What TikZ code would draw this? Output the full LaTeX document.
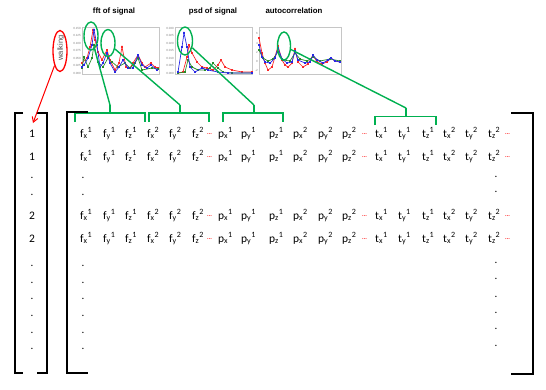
\documentclass[tikz,border=0pt]{standalone}
\usepackage{fontspec}
\setmainfont{Carlito}
\newfontfamily\arialf{Liberation Sans}
\usetikzlibrary{shapes.geometric,arrows.meta,plotmarks}
\definecolor{ogreen}{RGB}{0,176,80}
\definecolor{cred}{RGB}{250,40,40}
\definecolor{cblue}{RGB}{40,40,230}
\definecolor{cgreen}{RGB}{40,140,40}
\newcommand{\ent}[3]{#1\textsubscript{#2}\textsuperscript{#3}}
\tikzset{
  ent/.style={anchor=base west, inner sep=0pt, font=\fontsize{11.5}{13}\selectfont},
  lab/.style={anchor=base, inner sep=0pt, font=\fontsize{11.5}{13}\selectfont},
  bdot/.style={inner sep=0pt, font=\fontsize{11}{13}\selectfont},
  rdots/.style={anchor=west, inner sep=0pt, text=red, font=\fontsize{6}{6}\selectfont},
  blackbr/.style={line width=2pt, black},
  greenbr/.style={line width=1.4pt, ogreen},
  greenell/.style={ellipse, draw=ogreen, line width=1.4pt, inner sep=0pt},
  title/.style={inner sep=0pt, font=\arialf\bfseries\fontsize{7.8}{8}\selectfont},
  tick/.style={anchor=east, inner sep=0pt, text=gray, font=\arialf\fontsize{3}{3}\selectfont},
  parea/.style={draw=gray!45, line width=0.4pt},
  curve/.style={line width=0.7pt, mark=square*, mark size=0.6pt},
}
\begin{document}
\begin{tikzpicture}[x=1pt, y=-1pt]
\useasboundingbox (0,0) rectangle (546,389);

% ---------- titles ----------
\node[title] (t1) at (114,11) {fft of signal};
\node[title] (t2) at (213,11) {psd of signal};
\node[title] (t3) at (294,11) {autocorrelation};

% ---------- plot 1 ----------
\draw[parea] (82,27) rectangle (159,74);
\foreach \v/\yy in {0.150/28,0.125/35.5,0.100/43,0.075/50.5,0.050/58,0.025/65.5,0.000/73}
  \node[tick] (pa\yy) at (81,\yy) {\v};
\draw[curve, cred] plot coordinates {(82,63) (87,58) (90,47) (93,30) (95,40) (98,52) (102,60) (107,50) (110,60) (115,70) (119,63) (122,47) (126,67) (130,68) (133,63) (138,55) (142,63) (145,67) (151,63) (155,67) (158,68)};
\draw[curve, cgreen] plot coordinates {(82,68) (84,57) (88,67) (92,58) (94,45) (98,62) (103,67) (108,58) (112,62) (118,67) (125,63) (130,68) (135,63) (138,58) (142,70) (152,68) (158,69)};
\draw[curve, cblue] plot coordinates {(82,67) (84,65) (88,58) (92,45) (94,30) (97,45) (100,67) (103,63) (107,53) (110,63) (115,72) (119,67) (123,60) (128,68) (133,68) (138,55) (142,65) (147,68) (151,65) (157,70)};

% ---------- plot 2 ----------
\draw[parea] (175,27) rectangle (252,74);
\foreach \v/\yy in {0.030/28,0.025/35.5,0.020/43,0.015/50.5,0.010/58,0.005/65.5,0.000/73}
  \node[tick] (pb\yy) at (174,\yy) {\v};
\draw[curve, cred] plot coordinates {(178,73) (183,72) (187,57) (189,45) (192,53) (197,62) (202,67) (207,68) (213,70) (218,65) (221,60) (225,67) (232,70) (242,72) (252,72)};
\draw[curve, cgreen] plot coordinates {(178,73) (185,72) (188,60) (192,67) (198,70) (205,70) (210,68) (213,63) (218,68) (223,72) (232,73) (252,73)};
\draw[curve, cblue] plot coordinates {(178,72) (182,47) (184,33) (187,47) (190,67) (195,72) (202,68) (208,70) (218,72) (228,73) (252,73)};

% ---------- plot 3 ----------
\draw[parea] (259,27) rectangle (341,74);
\foreach \v/\yy in {6/33,4/43,2/52,0/61,-2/70}
  \node[tick] (pc\yy) at (258,\yy) {\v};
\draw[curve, cred] plot coordinates {(259,38) (262,53) (265,63) (268,70) (272,67) (275,57) (278,46) (282,60) (285,65) (288,67) (292,63) (295,49) (298,62) (303,67) (308,64) (313,55) (317,62) (322,64) (327,62) (331,58) (335,61) (340,62)};
\draw[curve, cgreen] plot coordinates {(259,50) (263,58) (268,61) (273,59) (278,52) (283,60) (290,61) (295,53) (300,59) (307,61) (313,57) (320,61) (330,59) (340,61)};
\draw[curve, cblue] plot coordinates {(259,45) (262,57) (265,62) (270,63) (275,58) (278,48) (282,59) (287,63) (292,62) (295,51) (298,60) (305,63) (310,62) (313,55) (317,60) (323,63) (328,60) (331,58) (335,61) (340,62)};

% ---------- highlight ellipses ----------
\node[rotate=90, inner sep=0pt, text=black!70, font=\arialf\fontsize{7.5}{8}\selectfont] (wtxt) at (61,48) {walking};
\node[ellipse, draw=red, line width=1.3pt, minimum width=14pt, minimum height=41pt, inner sep=0pt] (w) at (60,51) {};
\node[greenell, minimum width=14pt, minimum height=28pt] (e1) at (91,36) {};
\node[greenell, minimum width=14pt, minimum height=27pt] (e2) at (108,43) {};
\node[greenell, minimum width=15pt, minimum height=28pt] (e3) at (185,41) {};
\node[greenell, minimum width=13pt, minimum height=28pt] (e4) at (284,46) {};

% ---------- green brackets ----------
\coordinate (b1) at (110,105);
\coordinate (b2) at (180,105);
\coordinate (b3) at (254,105);
\coordinate (b4) at (406,108);
\draw[greenbr] (75,122) -- (75,113) -- (145,113) -- (145,122);
\draw[greenbr] (110,113) -- (b1);
\draw[greenbr] (149,122) -- (149,113) -- (209,113) -- (209,122);
\draw[greenbr] (180,113) -- (b2);
\draw[greenbr] (223,122) -- (223,113) -- (283,113) -- (283,122);
\draw[greenbr] (254,113) -- (b3);
\draw[greenbr] (375,125) -- (375,116.5) -- (436,116.5) -- (436,125);
\draw[greenbr] (406,116.5) -- (b4);

\draw[greenbr] (e1) -- (b1);
\draw[greenbr] (e2) -- (b2);
\draw[greenbr] (e3) -- (b3);
\draw[greenbr] (e4) -- (b4);

% ---------- black brackets ----------
\draw[blackbr] (23,113) -- (15,113) -- (15,373) -- (23,373);
\draw[blackbr] (37,113) -- (47,113) -- (47,373) -- (37,373);
\draw[blackbr] (88,112) -- (67,112) -- (67,373) -- (88,373);
\draw[blackbr] (511,113) -- (533,113) -- (533,374) -- (511,374);

% ---------- label column ----------
\node[lab] (l1) at (32,137) {1};
\node[lab] (l2) at (32,160) {1};
\node[lab] (l3) at (32,219) {2};
\node[lab] (l4) at (32,242) {2};
\foreach \yy in {178,195,266,283,299,316,333,349}
  \node[bdot] (ld\yy) at (32,\yy) {.};

\coordinate (a1) at (33,123);
\draw[red, line width=1pt, -{Straight Barb[length=5pt,width=6pt]}] (w) -- (a1);

% ---------- feature matrix ----------
\foreach \r/\yy in {1/137,2/160,3/219,4/242} {
  \foreach \c/\xx/\L/\s/\p in {1/80/f/x/1,2/103/f/y/1,3/125/f/z/1,4/147/f/x/2,5/169/f/y/2,6/192/f/z/2,
      7/218/p/x/1,8/241/p/y/1,9/269/p/z/1,10/293/p/x/2,11/318/p/y/2,12/342/p/z/2,
      13/375/t/x/1,14/398/t/y/1,15/422/t/z/1,16/443/t/x/2,17/465/t/y/2,18/488/t/z/2}
    \node[ent] (m\r-\c) at (\xx,\yy) {\ent{\L}{\s}{\p}};
  \foreach \k/\xx in {a/207,b/362,c/505}
    \node[rdots] (d\r\k) at (\xx,\yy-3) {\textbf{...}};
}
\foreach \yy in {178,195,266,283,299,316,333,349}
  \node[bdot] (ml\yy) at (83,\yy) {.};
\foreach \yy in {177,192,263,279,297,313,329,346}
  \node[bdot] (mr\yy) at (496,\yy) {.};
\end{tikzpicture}
\end{document}
